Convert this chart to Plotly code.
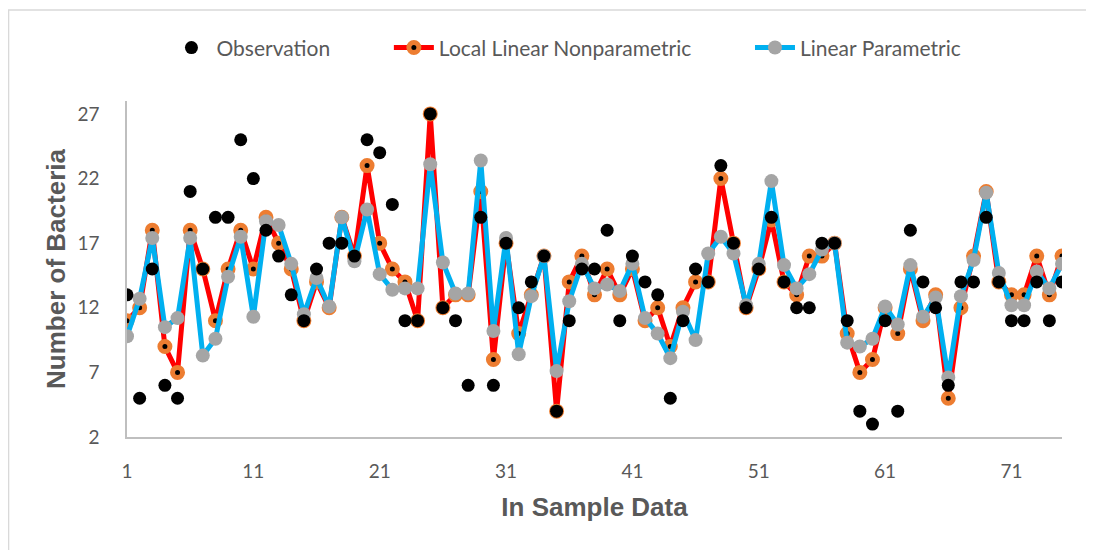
import plotly.graph_objects as go

sample = list(range(1, 76))

observation = [13, 5, 15, 6, 5, 21, 15, 19, 19, 25,
               22, 18, 16, 13, 11, 15, 17, 17, 16, 25,
               24, 20, 11, 11, 27, 12, 11, 6, 19, 6,
               17, 12, 14, 16, 4, 11, 15, 15, 18, 11,
               16, 14, 13, 5, 11, 15, 14, 23, 17, 12,
               15, 19, 14, 12, 12, 17, 17, 11, 4, 3,
               11, 4, 18, 14, 12, 6, 14, 14, 19, 14,
               11, 11, 14, 11, 14]

local_linear_nonparametric = [11, 12, 18, 9, 7, 18, 15, 11, 15, 18,
                              15, 19, 17, 15, 11, 14, 12, 19, 16, 23,
                              17, 15, 14, 11, 27, 12, 13, 13, 21, 8,
                              17, 10, 13, 16, 4, 14, 16, 13, 15, 13,
                              15, 11, 12, 9, 12, 14, 14, 22, 17, 12,
                              15, 18.8, 14, 13, 16, 16, 17, 10, 7, 8,
                              12, 10, 15, 11, 13, 5, 12, 16, 21, 14,
                              13, 13, 16, 13, 16]

linear_parametric = [9.8, 12.7, 17.4, 10.5, 11.2, 17.4, 8.3, 9.6, 14.4, 17.5,
                     11.3, 18.7, 18.4, 15.4, 11.5, 14.3, 12.1, 19.0, 15.6, 19.6,
                     14.6, 13.4, 13.5, 13.5, 23.1, 15.5, 13.1, 13.1, 23.4, 10.2,
                     17.4, 8.4, 12.9, 16.0, 7.1, 12.5, 15.4, 13.5, 13.8, 13.3,
                     15.4, 11.2, 10.0, 8.1, 11.7, 9.5, 16.2, 17.5, 16.2, 12.2,
                     15.4, 21.8, 15.3, 13.5, 14.6, 16.5, 17.0, 9.3, 9.0, 9.6,
                     12.1, 10.7, 15.3, 11.3, 12.8, 6.6, 12.9, 15.7, 20.9, 14.7,
                     12.2, 12.2, 14.8, 13.5, 15.4]

x_tick_vals = [1, 11, 21, 31, 41, 51, 61, 71]
y_tick_vals = [2, 7, 12, 17, 22, 27]

label_color = "#595959"
tick_font = dict(family="Lato, Open Sans, sans-serif", size=19, color=label_color)
title_font = dict(family="Liberation Sans, Arial, sans-serif", size=26, color=label_color, weight="bold")
gap = "\u00a0" * 10

fig = go.Figure()

fig.add_trace(go.Scatter(
    x=sample, y=local_linear_nonparametric, mode="lines+markers",
    name="Local Linear Nonparametric" + gap, legendrank=2,
    line=dict(color="#FF0000", width=5),
    marker=dict(color="#000000", size=10, line=dict(color="#ED7D31", width=5)),
))
fig.add_trace(go.Scatter(
    x=sample, y=linear_parametric, mode="lines+markers",
    name="Linear Parametric", legendrank=3,
    line=dict(color="#00B0F0", width=5),
    marker=dict(color="#A5A5A5", size=14),
))
fig.add_trace(go.Scatter(
    x=sample, y=observation, mode="markers",
    name="Observation" + gap, legendrank=1,
    marker=dict(color="#000000", size=13),
))

fig.update_layout(
    width=1094, height=550,
    paper_bgcolor="white", plot_bgcolor="white",
    margin=dict(l=119, r=40, t=93, b=121),
    showlegend=True,
    legend=dict(orientation="h", x=0.47, xanchor="center", y=1.158, yanchor="middle",
                font=dict(family="Lato, Open Sans, sans-serif", size=21, color=label_color),
                itemwidth=40, tracegroupgap=0),
    shapes=[dict(type="rect", xref="paper", yref="paper",
                 x0=-0.1267, x1=1.03, y0=-0.4, y1=1.271,
                 line=dict(color="#D9D9D9", width=1.5), fillcolor="rgba(0,0,0,0)", layer="below")],
)

fig.update_xaxes(
    range=[1, 75], tickmode="array", tickvals=x_tick_vals,
    showgrid=False, zeroline=False, showline=True, linecolor="#BFBFBF", linewidth=1.5,
    ticks="", tickfont=tick_font, ticklabelstandoff=16,
    title=dict(text="In Sample Data", font=title_font, standoff=17),
)
fig.update_yaxes(
    range=[2, 28], tickmode="array", tickvals=y_tick_vals,
    showgrid=False, zeroline=False, showline=True, linecolor="#BFBFBF", linewidth=1.5,
    ticks="", tickfont=tick_font, ticklabelstandoff=22,
    title=dict(text="Number of Bacteria", font=title_font, standoff=4),
)

fig.write_html("out.html")
